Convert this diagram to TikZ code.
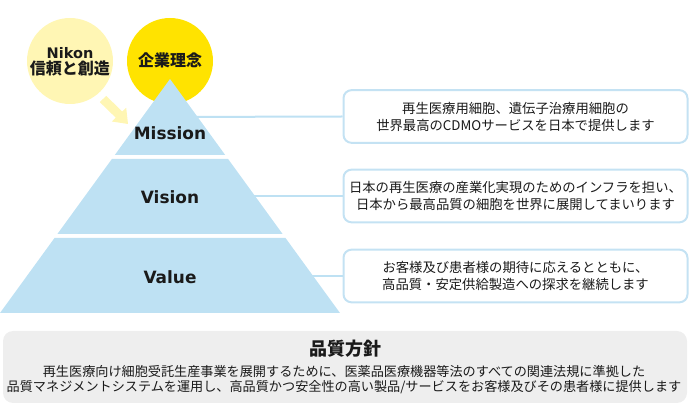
\documentclass[tikz,border=0pt]{standalone}
\usepackage{fontspec}
\setmainfont{DejaVu Sans}
\newfontfamily\cjk{Noto Sans CJK JP}
\definecolor{pyr}{HTML}{BEE1F3}
\definecolor{boxline}{HTML}{C4E2F3}
\definecolor{paley}{HTML}{FFF6B4}
\definecolor{brighty}{HTML}{FFE300}
\definecolor{grayfill}{HTML}{EEEEEE}
\definecolor{txt}{HTML}{1A1A1A}
\tikzset{
  pyrpart/.style={fill=pyr, draw=none},
  tierlabel/.style={font=\fontsize{12.7}{15}\selectfont\bfseries, text=txt},
  msgbox/.style={draw=boxline, line width=1.5pt, fill=white, rounded corners=6pt,
    minimum width=258pt, minimum height=39.5pt, inner sep=0pt, align=center,
    font=\cjk\fontsize{10}{12.75}\selectfont, text=txt},
  link/.style={draw=pyr, line width=1.5pt},
  circ/.style={circle, minimum size=64.5pt, inner sep=0pt, align=center, text=txt}
}
\begin{document}
\begin{tikzpicture}[x=0.75pt,y=-0.75pt]
\useasboundingbox (0,0) rectangle (690,420);
% circles
\node[circ, fill=paley] (nikon) at (70,61) {};
\node[circ, fill=brighty] (rinen) at (170,61) {};
% arrow
\fill[paley] (99.75,102.1) -- (106.25,95.9) -- (122.2,111.5) -- (126.2,107.7) -- (128,124) -- (111.8,121.5) -- (115.8,117.7) -- cycle;
% boxes
\node[msgbox] (b1) at (515.5,116.5) {再生医療用細胞、遺伝子治療用細胞の\\世界最高のCDMOサービスを日本で提供します};
\node[msgbox] (b2) at (515.5,196) {日本の再生医療の産業化実現のためのインフラを担い、\\日本から最高品質の細胞を世界に展開してまいります};
\node[msgbox] (b3) at (515.5,276) {お客様及び患者様の期待に応えるとともに、\\高品質・安定供給製造への探求を継続します};
% connector anchors
\coordinate (c1) at (170,117);
\coordinate (c2) at (170,196);
\coordinate (c3) at (170,276);
\draw[link] (c1) -- (b1.west);
\draw[link] (c2) -- (b2.west);
\draw[link] (c3) -- (b3.west);
% pyramid
\fill[pyrpart] (170,79) -- (225.2,155) -- (114.8,155) -- cycle;
\fill[pyrpart] (111.9,159) -- (228.1,159) -- (282.6,234) -- (57.4,234) -- cycle;
\fill[pyrpart] (54.5,238) -- (285.5,238) -- (340,313) -- (0,313) -- cycle;
\node[tierlabel] (mission) at (170,133) {Mission};
\node[tierlabel] (vision) at (170,197) {Vision};
\node[tierlabel] (value) at (170,277) {Value};
% circle texts
\node[align=center, text=txt] (nikontxt) at (70,61.5) {{\fontsize{10.9}{14.25}\selectfont\bfseries Nikon}\\{\cjk\fontsize{12}{14.25}\selectfont\bfseries 信頼と創造}};
\node[text=txt, font=\cjk\fontsize{12}{14}\selectfont\bfseries] (rinentxt) at (170,60) {企業理念};
% quality policy
\node[fill=grayfill, rounded corners=7.5pt, minimum width=513pt, minimum height=54pt, inner sep=0pt] (policy) at (345,367) {};
\node[text=txt, font=\cjk\fontsize{13.5}{16}\selectfont\bfseries] (ptitle) at (345,349) {品質方針};
\node[text=txt, align=center, font=\cjk\fontsize{9.85}{11.25}\selectfont] (pbody) at (344,379.5) {再生医療向け細胞受託生産事業を展開するために、医薬品医療機器等法のすべての関連法規に準拠した\\品質マネジメントシステムを運用し、高品質かつ安全性の高い製品/サービスをお客様及びその患者様に提供します};
\end{tikzpicture}
\end{document}
